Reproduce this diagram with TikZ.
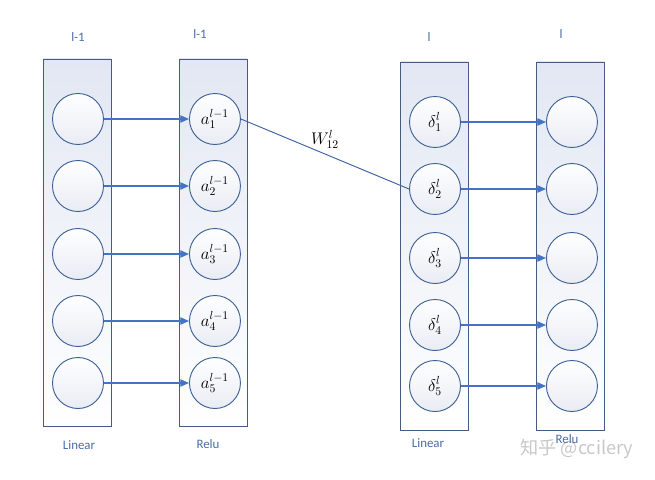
\documentclass[tikz,border=0pt]{standalone}
\usepackage{fontspec}
\setmainfont{Carlito}
\newfontfamily\cjkfont{Noto Sans CJK SC}
\usepackage{tikz}
\usetikzlibrary{arrows.meta,positioning}
\definecolor{nnframe}{RGB}{68,92,130}
\definecolor{nnring}{RGB}{62,98,150}
\definecolor{nnarrow}{RGB}{68,114,196}
\definecolor{nnline}{RGB}{60,96,160}
\definecolor{nntext}{RGB}{72,108,165}
\definecolor{nnfill}{RGB}{226,231,243}
\definecolor{nnshade}{RGB}{233,236,244}
\definecolor{nnmark}{RGB}{200,200,200}
\tikzset{
  nnlayer/.style={draw=nnframe, line width=.8pt, top color=nnfill, bottom color=white, minimum width=2.04cm, minimum height=11.01cm, inner sep=0pt},
  nnunit/.style={draw=nnring, line width=.8pt, circle, top color=white, bottom color=nnshade, minimum size=1.53cm, inner sep=0pt, font=\Large},
  nnarr/.style={-{Triangle[length=2.6mm, width=2.2mm]}, line width=.9pt, draw=nnarrow},
  nnweight/.style={line width=.8pt, draw=nnline},
  nntag/.style={text=nntext, font=\fontsize{11}{13}\selectfont}
}

\begin{document}
\begin{tikzpicture}[x=.03cm, y=-.03cm, node distance=.45cm and 2.55cm]
  \useasboundingbox (0,0) rectangle (655,479);
  % layer frames
  \node[nnlayer] (lin1) at (77,242.5) {};
  \node[nnlayer] (relu1) at (213,242.5) {};
  \node[nnlayer, minimum height=11.04cm] (lin2) at (434.5,246) {};
  \node[nnlayer, minimum height=11.04cm] (relu2) at (570.5,246) {};
  % layer l-1
  \node[nnunit] (x1) at (78,119) {};
  \node[nnunit] (x2) at (78,186) {};
  \node[nnunit] (x3) at (78,254) {};
  \node[nnunit] (x4) at (78,321) {};
  \node[nnunit] (x5) at (78,383) {};
  \node[nnunit, right=of x1] (a1) {$a_1^{l-1}$};
  \node[nnunit, right=of x2] (a2) {$a_2^{l-1}$};
  \node[nnunit, right=of x3] (a3) {$a_3^{l-1}$};
  \node[nnunit, right=of x4] (a4) {$a_4^{l-1}$};
  \node[nnunit, right=of x5] (a5) {$a_5^{l-1}$};
  % layer l
  \node[nnunit] (d1) at (435,122) {$\delta_1^l$};
  \node[nnunit] (d2) at (435,189) {$\delta_2^l$};
  \node[nnunit] (d3) at (435,258) {$\delta_3^l$};
  \node[nnunit] (d4) at (435,325) {$\delta_4^l$};
  \node[nnunit] (d5) at (435,386) {$\delta_5^l$};
  \node[nnunit, right=of d1] (y1) {};
  \node[nnunit, right=of d2] (y2) {};
  \node[nnunit, right=of d3] (y3) {};
  \node[nnunit, right=of d4] (y4) {};
  \node[nnunit, right=of d5] (y5) {};
  \draw[nnarr] (x1) -- (a1);
  \draw[nnarr] (x2) -- (a2);
  \draw[nnarr] (x3) -- (a3);
  \draw[nnarr] (x4) -- (a4);
  \draw[nnarr] (x5) -- (a5);
  \draw[nnarr] (d1) -- (y1);
  \draw[nnarr] (d2) -- (y2);
  \draw[nnarr] (d3) -- (y3);
  \draw[nnarr] (d4) -- (y4);
  \draw[nnarr] (d5) -- (y5);
  \draw[nnweight] (a1.east) -- node[above=1pt, font=\Large] {$W_{12}^l$} (d2.west);
  % captions
  \node[nntag] (top1) at (78,37) {l-1};
  \node[nntag] (top2) at (200,34) {l-1};
  \node[nntag] (top3) at (429,37) {l};
  \node[nntag] (top4) at (561,34) {l};
  \node[text=nnmark, font=\fontsize{15.5}{18}\selectfont\cjkfont] (mark) at (577,449) {知乎 @ccilery};
  \node[nntag] (bot1) at (79,445) {Linear};
  \node[nntag] (bot2) at (208,444) {Relu};
  \node[nntag] (bot3) at (428,443) {Linear};
  \node[nntag] (bot4) at (567,439) {Relu};
\end{tikzpicture}
\end{document}
